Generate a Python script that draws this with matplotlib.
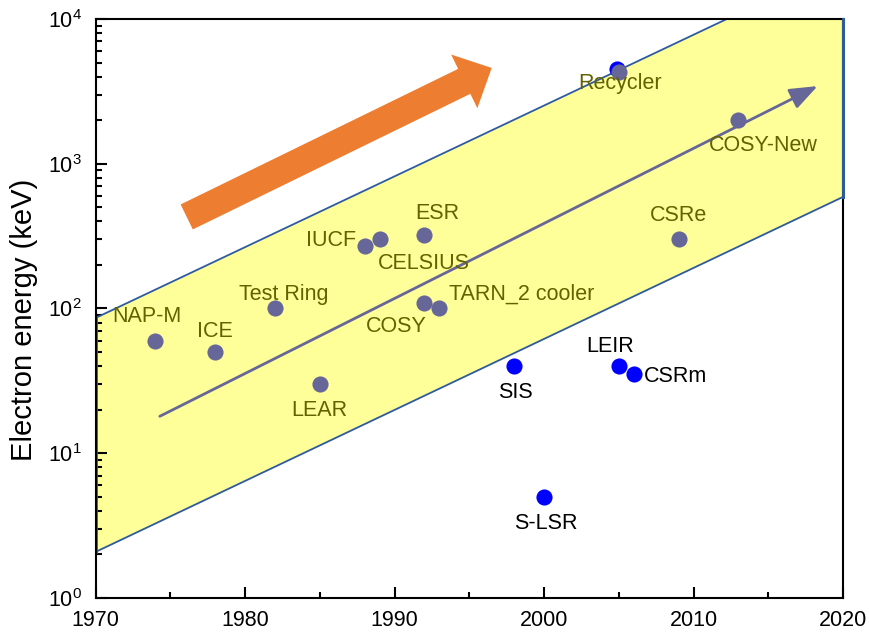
import matplotlib
matplotlib.use("Agg")
import matplotlib.pyplot as plt
from matplotlib.patches import FancyArrowPatch
from matplotlib.ticker import FixedLocator, LogLocator, NullFormatter

plt.rcParams["font.family"] = ["Liberation Sans", "DejaVu Sans"]
plt.rcParams["mathtext.fontset"] = "custom"
plt.rcParams["mathtext.rm"] = "Liberation Sans"
plt.rcParams["mathtext.default"] = "regular"

# Electron coolers: commissioning year and electron energy (keV)
cooler_names = ["NAP-M", "ICE", "Test Ring", "LEAR", "IUCF", "CELSIUS", "ESR",
                "COSY", "TARN_2 cooler", "CSRe", "COSY-New", "Recycler"]
cooler_years = [1974, 1978, 1982, 1985, 1988, 1989, 1992, 1992, 1993, 2009, 2013, 2005]
cooler_energy = [60, 50, 100, 30, 270, 300, 320, 110, 100, 300, 2000, 4300]
cooler_offsets = [(-6, 17), (0, 15), (6, 10), (0, -19), (-24, 4), (32, -17), (9, 16),
                  (-20, -17), (59, 10), (0, 17), (18, -18), (1, -8)]

# Low-energy machines drawn in blue
low_names = ["SIS", "LEIR", "CSRm", "S-LSR", "Recycler"]
low_years = [1998, 2005, 2006, 2000, 2004.85]
low_energy = [40, 40, 35, 5, 4500]
low_offsets = [(1, -19), (-6, 14), (7, -1.5), (1, -19), None]

# Trend band (one decade per ~20 years)
band_years = [1970, 2020]
band_lower = [2.08, 590]
band_upper = [86, 24000]

# Trend line through the band
trend_years = [1974.3, 2018.3]
trend_energy = [18, 3440]

# Big progress arrow
progress_years = [1976.1, 1996.5]
progress_energy = [429, 4590]

YELLOW = "#FFFF99"
EDGE = "#2E5AA0"
SLATE = "#666699"
OLIVE = "#626200"
BLUE = "#0000FF"
ORANGE = "#ED7D31"

fig = plt.figure(figsize=(8.7, 6.33), dpi=100)
ax = fig.add_axes([0.1098, 0.0553, 0.969 - 0.1098, 0.970 - 0.0553])
ax.set_yscale("log")
ax.set_xlim(1970, 2020)
ax.set_ylim(1, 1e4)

# band
ax.fill_between(band_years, band_lower, band_upper, color=YELLOW, lw=0, zorder=1)
ax.plot(band_years, band_lower, color=EDGE, lw=1.3, zorder=2)
ax.plot(band_years, band_upper, color=EDGE, lw=1.3, zorder=2)
ax.plot([band_years[0]] * 2, [band_lower[0], band_upper[0]], color=EDGE, lw=2.0, zorder=2)

# trend arrow
trend = FancyArrowPatch((trend_years[0], trend_energy[0]), (trend_years[1], trend_energy[1]),
                        arrowstyle="-|>,head_length=17,head_width=6.5", mutation_scale=1,
                        color=SLATE, lw=2.0, shrinkA=0, shrinkB=0, zorder=3)
ax.add_patch(trend)

# progress arrow
prog = FancyArrowPatch((progress_years[0], progress_energy[0]),
                       (progress_years[1], progress_energy[1]),
                       arrowstyle="simple,head_length=22,head_width=43,tail_width=20",
                       mutation_scale=1, color=ORANGE, lw=0, shrinkA=0, shrinkB=0, zorder=3)
ax.add_patch(prog)

# points
ax.scatter(low_years, low_energy, s=135, color=BLUE, lw=0, zorder=4, clip_on=False)
ax.scatter(cooler_years, cooler_energy, s=135, color=SLATE, lw=0, zorder=5, clip_on=False)

for name, x, y, off in zip(cooler_names, cooler_years, cooler_energy, cooler_offsets):
    ax.annotate(name, (x, y), xytext=off, textcoords="offset points",
                ha="center", va="center", fontsize=15.5, color=OLIVE, zorder=6)
for name, x, y, off in zip(low_names, low_years, low_energy, low_offsets):
    if off is None:
        continue
    ha = "left" if name == "CSRm" else "center"
    ax.annotate(name, (x, y), xytext=off, textcoords="offset points",
                ha=ha, va="center", fontsize=15.5, color="black", zorder=6)

# axes styling
ax.set_xticks([1970, 1980, 1990, 2000, 2010, 2020])
ax.xaxis.set_minor_locator(FixedLocator([1975, 1985, 1995, 2005, 2015]))
ax.set_yticks([1, 10, 100, 1000, 10000])
ax.set_yticklabels([r"$10^{0}$", r"$10^{1}$", r"$10^{2}$", r"$10^{3}$", r"$10^{4}$"])
ax.yaxis.set_minor_locator(LogLocator(base=10, subs=range(2, 10)))
ax.yaxis.set_minor_formatter(NullFormatter())
ax.tick_params(which="both", direction="in", width=1.5, labelsize=15.5)
ax.tick_params(which="major", length=8)
ax.tick_params(which="minor", length=4)
ax.tick_params(axis="x", pad=9)
ax.tick_params(axis="y", pad=10)
for sp in ax.spines.values():
    sp.set_linewidth(1.5)
    sp.set_zorder(2.5)
# the band's right edge shows in blue over the right spine
ax.plot([band_years[1]] * 2, [band_lower[1], 1e4], color=EDGE, lw=2.2, zorder=2.6,
        clip_on=False)

ylab = ax.set_ylabel("Electron energy (keV)", fontsize=21)
ylab.set_va("center")
ax.yaxis.set_label_coords(-0.0956, 0.48)

fig.savefig("out.png", dpi=100)
